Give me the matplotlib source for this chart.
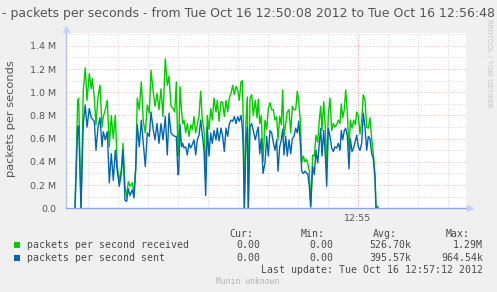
import matplotlib
matplotlib.use("Agg")
import matplotlib.pyplot as plt
from matplotlib.patches import Rectangle

# seconds since 12:50:08
t_sec = [9, 11.7, 12.7, 15, 17.3, 19.3, 21, 23.3, 25.3, 26.3, 27.3, 28.3, 30, 32, 34, 36, 37.3, 39.3,
         41.3, 43.3, 45.3, 47.3, 49.3, 51.3, 53.3, 55.3, 57, 59, 60.7, 62.3, 64, 66.3, 68, 69.7, 71.3,
         73.3, 75.3, 77.3, 79.3, 81.3, 83.3, 85, 87, 89, 91, 93, 95, 97, 99.3, 101.3, 103, 105, 107,
         108.7, 110.3, 112, 112.7, 114, 115.5, 116.7, 118, 119.7, 121.3, 123, 124.7, 126.3, 128, 129.7,
         131.3, 133, 134.7, 136.3, 138, 139.7, 141.3, 143, 144.7, 146.3, 148, 150, 151.3, 153, 155,
         156.7, 158.3, 160, 161.7, 163.3, 165, 166.7, 168.3, 170, 171.7, 173.3, 175, 176.3, 177.3,
         178.3, 180, 181.3, 182.3, 184, 185.7, 187.3, 189.3, 191, 192.3, 193.7, 195.3, 197, 199,
         200.7, 202.3, 204, 205.7, 207.3, 209, 210.7, 212, 213.7, 215.3, 216.7, 218, 219.7, 221.3,
         223, 224.7, 226.3, 228, 229.7, 231.3, 232.7, 234.3, 235.7, 237.3, 239, 240.7, 241.7, 243.3,
         244.7, 246.7, 248.3, 250, 251.7, 253.3, 254.7, 256, 257.7, 259.3, 260.7, 262.3, 264, 265.7,
         267.3, 269, 270.7, 272.3, 274, 275.3, 276.7, 278.3, 279.7, 281.3, 283, 284.3, 286, 287.7,
         289.3, 290.7, 292.3, 294, 295.7, 297.3, 299, 300.7, 302.3, 304, 305.7, 307.3, 309, 310,
         311.3, 312.5]

# millions of packets per second
received = [0, 0.93, 0.95, 0, 1.02, 1.21, 0.93, 1.16, 1.03, 1.12, 1.03, 0.95, 0.72, 0.96, 1.06, 0.70,
            0.79, 0.85, 0.93, 0.53, 0.80, 0.60, 0.80, 0.36, 0.24, 0.33, 0.56, 0.19, 0.10, 0.23, 0.19,
            0.22, 0.13, 0.36, 0.95, 0.85, 1.09, 0.75, 0.65, 0.89, 0.82, 1.19, 1.02, 0.88, 0.99, 0.85,
            1.03, 0.79, 1.29, 1.06, 1.14, 0.88, 0.86, 0.83, 1.09, 0.45, 0.55, 1.05, 0.85, 0.73, 0.76,
            0.65, 0.73, 0.62, 0.72, 0.68, 0.79, 0.65, 0.72, 0.80, 1.01, 0.76, 0.68, 0.30, 0.80, 0.68,
            0.86, 0.76, 0.95, 0.83, 0.93, 0.75, 0.92, 0.91, 0.79, 0.93, 0.83, 0.95, 0.99, 1.06, 0.98,
            1.05, 1.02, 0.93, 1.09, 1.10, 0.75, 0.0, 0.76, 0.96, 0.0, 0.95, 0.98, 0.80, 0.93, 0.78,
            0.94, 0.73, 0.80, 0.40, 0.76, 0.68, 0.86, 0.91, 0.85, 0.85, 0.76, 0.79, 0.59, 0.79, 0.72,
            1.02, 0.62, 0.73, 0.83, 0.85, 0.65, 0.88, 0.85, 0.85, 1.01, 0.92, 0.76, 0.39, 0.45, 0.40,
            0.42, 0.39, 0.32, 0.02, 0.46, 0.45, 0.63, 0.57, 0.76, 0.88, 0.67, 0.92, 0.70, 0.35, 0.80,
            0.95, 0.67, 0.73, 0.70, 0.72, 0.76, 0.73, 0.90, 0.78, 0.85, 1.02, 0.83, 0.50, 0.76, 0.69,
            0.76, 0.72, 0.83, 0.80, 0.64, 0.75, 0.98, 0.93, 0.70, 0.69, 0.78, 0.60, 0.47, 0.30, 0.0,
            0.02, 0.0]

sent = [0, 0.70, 0.71, 0, 0.73, 0.89, 0.70, 0.86, 0.78, 0.77, 0.76, 0.75, 0.50, 0.70, 0.78, 0.53,
        0.66, 0.59, 0.66, 0.22, 0.47, 0.24, 0.50, 0.32, 0.19, 0.30, 0.50, 0.07, 0.06, 0.17, 0.11,
        0.16, 0.09, 0.33, 0.72, 0.53, 0.76, 0.56, 0.36, 0.65, 0.62, 0.83, 0.69, 0.59, 0.73, 0.56,
        0.73, 0.59, 0.79, 0.46, 0.82, 0.65, 0.63, 0.62, 0.62, 0.29, 0.30, 0.72, 0.53, 0.56, 0.52,
        0.53, 0.46, 0.56, 0.52, 0.55, 0.59, 0.46, 0.59, 0.63, 0.76, 0.63, 0.50, 0.11, 0.70, 0.45,
        0.65, 0.56, 0.67, 0.59, 0.69, 0.58, 0.69, 0.62, 0.49, 0.69, 0.62, 0.73, 0.76, 0.75, 0.79,
        0.73, 0.79, 0.75, 0.80, 0.70, 0.50, 0.0, 0.59, 0.70, 0.0, 0.70, 0.73, 0.67, 0.59, 0.66,
        0.70, 0.47, 0.60, 0.30, 0.39, 0.62, 0.45, 0.67, 0.65, 0.57, 0.50, 0.59, 0.32, 0.53, 0.59,
        0.68, 0.46, 0.62, 0.45, 0.59, 0.47, 0.60, 0.62, 0.69, 0.65, 0.75, 0.57, 0.32, 0.30, 0.32,
        0.30, 0.30, 0.19, 0.01, 0.36, 0.29, 0.50, 0.39, 0.56, 0.69, 0.45, 0.67, 0.46, 0.19, 0.69,
        0.62, 0.52, 0.49, 0.53, 0.52, 0.56, 0.50, 0.67, 0.59, 0.67, 0.69, 0.62, 0.34, 0.60, 0.49,
        0.52, 0.58, 0.63, 0.53, 0.50, 0.56, 0.82, 0.70, 0.50, 0.62, 0.60, 0.47, 0.43, 0.25, 0.0,
        0.0, 0.0]

y_ticks = [0.0, 0.2, 0.4, 0.6, 0.8, 1.0, 1.2, 1.4]
y_tick_labels = ["0.0", "0.2 M", "0.4 M", "0.6 M", "0.8 M", "1.0 M", "1.2 M", "1.4 M"]
x_tick_pos = [292]
x_tick_labels = ["12:55"]

legend_names = ["packets per second received", "packets per second sent"]
legend_cur = ["0.00", "0.00"]
legend_min = ["0.00", "0.00"]
legend_avg = ["526.70k", "395.57k"]
legend_max = ["1.29M", "964.54k"]

GREEN = "#00CC00"
BLUE = "#0066B3"
W, H = 497, 292

fig = plt.figure(figsize=(W / 100, H / 100), dpi=100, facecolor="#F0F0F0")

def fx(x):
    return x / W

def fy(y):
    return 1 - y / H

ax = fig.add_axes([fx(66), fy(208.3), (466 - 66) / W, (208.3 - 33) / H])
ax.set_facecolor("white")
ax.set_xlim(0, 400)
ax.set_ylim(0, 1.511)
for s in ax.spines.values():
    s.set_visible(False)

# grid
for v in [0.1, 0.3, 0.5, 0.7, 0.9, 1.1, 1.3, 1.5]:
    ax.axhline(v, color="#c8c8c8", lw=0.6, ls=(0, (1, 2)), zorder=1)
for v in y_ticks[1:]:
    ax.axhline(v, color="#e8a0a0", lw=0.6, ls=(0, (1, 2)), zorder=1)
for tv in range(22, 400, 30):
    col = "#e87070" if tv == 292 else "#c8c8c8"
    ax.axvline(tv, color=col, lw=0.6, ls=(0, (1, 2)), zorder=1)

ax.plot(t_sec, received, color=GREEN, lw=1.0, zorder=3)
ax.plot(t_sec, sent, color=BLUE, lw=1.0, zorder=4)

# axes lines with arrows
ax.plot([0, 0], [0, 1.511], color="#b8c4f4", lw=1.0, zorder=5, clip_on=False)
ax.plot([0, 404], [0, 0], color="#8aa4e6", lw=1.0, zorder=5, clip_on=False)
ax.plot([0.3], [1.545], marker="^", ms=4, color="#c8d2fa", clip_on=False, zorder=5)
ax.plot([404], [0], marker=">", ms=4, color="#c8d2fa", clip_on=False, zorder=5)

ax.set_yticks(y_ticks)
ax.set_yticklabels(y_tick_labels)
ax.set_xticks(x_tick_pos)
ax.set_xticklabels(x_tick_labels)
ax.tick_params(axis="both", length=0, labelsize=6.8, labelcolor="#555555")
ax.tick_params(axis="y", pad=7)
ax.tick_params(axis="x", pad=4)

# title and labels
fig.text(fx(495), fy(13.5),
         "- packets per seconds - from Tue Oct 16 12:50:08 2012 to Tue Oct 16 12:56:48",
         ha="right", va="center", fontsize=9, color="#555555")
fig.text(fx(11), fy(119), "packets per seconds", rotation=90, ha="center", va="center",
         fontsize=8.2, color="#555555")
fig.text(fx(488.5), fy(108), "RRDTOOL / TOBI OETIKER", rotation=270, ha="center", va="bottom",
         fontsize=5, color="#c4c4c4")

mono = "DejaVu Sans Mono"
fs = 7.14
tc = "#4a4a4a"
for x, lab in zip([253.3, 325, 397, 470], ["Cur:", "Min:", "Avg:", "Max:"]):
    fig.text(fx(x), fy(233.7), lab, ha="right", va="center", family=mono, fontsize=fs, color=tc)

rows_y = [245, 257.7]
for i, (name, col) in enumerate(zip(legend_names, [GREEN, BLUE])):
    y = rows_y[i]
    fig.patches.append(Rectangle((fx(14), fy(y + 3)), 6 / W, 6 / H, transform=fig.transFigure,
                                 facecolor=col, edgecolor="none"))
    fig.text(fx(26.7), fy(y), name, ha="left", va="center", family=mono, fontsize=fs, color=tc)
    for x, val in zip([260, 333, 411, 483], [legend_cur[i], legend_min[i], legend_avg[i], legend_max[i]]):
        fig.text(fx(x), fy(y), val, ha="right", va="center", family=mono, fontsize=fs, color=tc)

fig.text(fx(483), fy(269.7), "Last update: Tue Oct 16 12:57:12 2012", ha="right", va="center",
         family=mono, fontsize=fs, color=tc)
fig.text(fx(248), fy(281), "Munin unknown", ha="center", va="center", family=mono,
         fontsize=5.8, color="#b4b4b4")

fig.savefig("out.png", dpi=100, facecolor=fig.get_facecolor())
